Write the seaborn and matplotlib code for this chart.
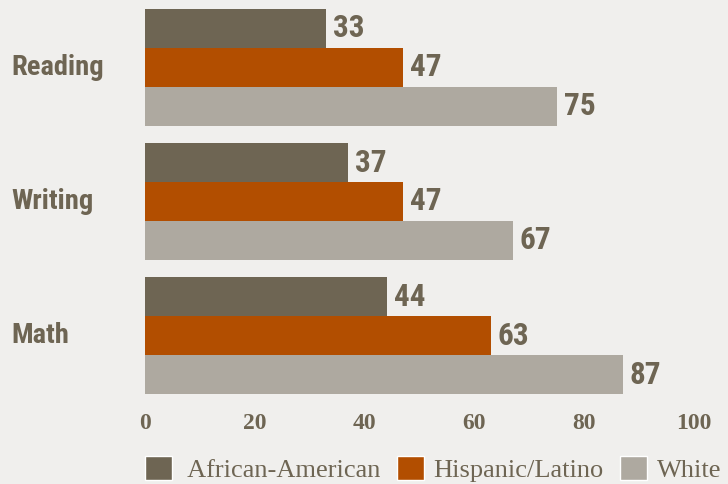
import pandas as pd
import matplotlib.pyplot as plt
import seaborn as sns
from matplotlib.patches import Patch

# --- values ---
subjects = ["Reading", "Writing", "Math"]
groups = ["African-American", "Hispanic/Latino", "White"]
african_american = [33, 37, 44]
hispanic_latino = [47, 47, 63]
white = [75, 67, 87]
x_ticks = [0, 20, 40, 60, 80, 100]

BG = "#f0efed"
TEXT = "#6e6553"
PALETTE = {"African-American": "#6e6553", "Hispanic/Latino": "#b24e00", "White": "#aea9a0"}

df = pd.DataFrame({
    "subject": subjects * 3,
    "group": [g for g in groups for _ in subjects],
    "pct": african_american + hispanic_latino + white,
})

sns.set_style("white")
plt.rcParams["font.family"] = ["Liberation Serif", "DejaVu Serif"]
COND = ["Roboto Condensed", "Liberation Sans Narrow", "Liberation Sans"]

fig = plt.figure(figsize=(7.28, 4.84), dpi=100, facecolor=BG)
ax = fig.add_axes([145 / 728, 81 / 484, 583 / 728, 403 / 484])
ax.set_facecolor(BG)

sns.barplot(data=df, x="pct", y="subject", hue="group", order=subjects, hue_order=groups,
            palette=PALETTE, orient="h", width=0.87, saturation=1, legend=False,
            linewidth=0, ax=ax)

for cont in ax.containers:
    for bar in cont:
        w = bar.get_width()
        ax.annotate(f"{w:.0f}", (w, bar.get_y() + bar.get_height() / 2), xytext=(7, 0),
                    textcoords="offset pixels", va="center", ha="left",
                    fontsize=22.5, fontweight="bold", color=TEXT, family=COND)

ax.set_xlim(0, 583 / 5.49)
ax.set_ylim(2.5, -0.5)
ax.set_xticks(x_ticks)
ax.set_xticklabels([str(t) for t in x_ticks], fontsize=17, fontweight="bold", color=TEXT)
ax.tick_params(axis="x", length=0, pad=7)
ax.tick_params(axis="y", length=0, pad=96)
for lab in ax.get_yticklabels():
    lab.set_horizontalalignment("left")
    lab.set_verticalalignment("center")
    lab.set_fontsize(20.5)
    lab.set_fontweight("bold")
    lab.set_color(TEXT)
    lab.set_family(COND)
ax.set_xlabel("")
ax.set_ylabel("")
sns.despine(ax=ax, left=True, bottom=True)

# the first legend entry sits a little further from its swatch in the original
legend_labels = [" " + groups[0]] + groups[1:]
handles = [Patch(facecolor=PALETTE[g], label=l) for g, l in zip(groups, legend_labels)]
fig.legend(handles=handles, loc="center left", bbox_to_anchor=(145 / 728, 15 / 484), ncol=3,
           frameon=False, fontsize=19, labelcolor=TEXT, handlelength=1.02, handleheight=1.02,
           handletextpad=0.38, columnspacing=0.62, borderaxespad=0, borderpad=0)

fig.savefig("out.png", dpi=100, facecolor=BG)
